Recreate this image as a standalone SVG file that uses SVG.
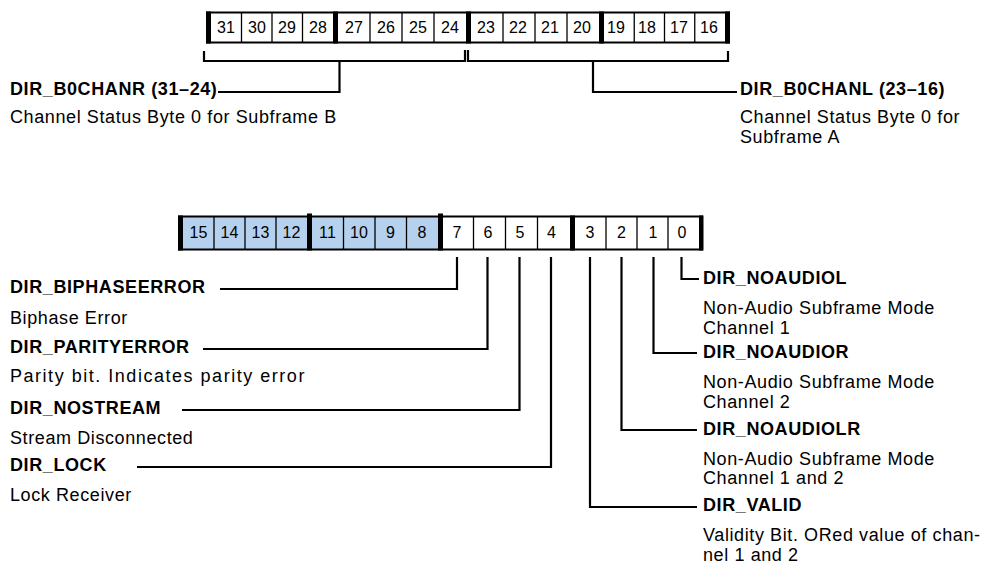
<svg xmlns="http://www.w3.org/2000/svg" width="987" height="566" viewBox="0 0 987 566">
<style>
  .bg { fill: #ffffff; }
  .frame { fill: none; stroke: #000; stroke-width: 2; }
  .div { stroke: #000; stroke-width: 1.3; }
  .bar { fill: #000; }
  .hi { fill: #b6d1ee; }
  .num { font-family: "Liberation Sans", Arial, sans-serif; font-size: 16px; letter-spacing: 0.2px; fill: #000; text-anchor: middle; }
  .b { font-family: "Liberation Sans", Arial, sans-serif; font-size: 18px; font-weight: bold; letter-spacing: 0.6px; fill: #000; }
  .r { font-family: "Liberation Sans", Arial, sans-serif; font-size: 18px; letter-spacing: 0.6px; fill: #000; }
  .ln { fill: none; stroke: #000; stroke-width: 2.2; stroke-linejoin: miter; stroke-linecap: butt; }
</style>
<rect class="bg" x="0" y="0" width="987" height="566"/>

<!-- Top register bits 31..16 -->
<g id="reg-top">
  <rect x="206" y="12" width="524" height="31" fill="#fff"/>
  <line class="div" x1="241.5" y1="12" x2="241.5" y2="43"/>
  <line class="div" x1="272" y1="12" x2="272" y2="43"/>
  <line class="div" x1="302.5" y1="12" x2="302.5" y2="43"/>
  <line class="div" x1="370" y1="12" x2="370" y2="43"/>
  <line class="div" x1="402" y1="12" x2="402" y2="43"/>
  <line class="div" x1="434" y1="12" x2="434" y2="43"/>
  <line class="div" x1="503" y1="12" x2="503" y2="43"/>
  <line class="div" x1="535" y1="12" x2="535" y2="43"/>
  <line class="div" x1="567" y1="12" x2="567" y2="43"/>
  <line class="div" x1="634.25" y1="12" x2="634.25" y2="43"/>
  <line class="div" x1="664.5" y1="12" x2="664.5" y2="43"/>
  <line class="div" x1="694.75" y1="12" x2="694.75" y2="43"/>
  <line class="frame" x1="206" y1="12.5" x2="730" y2="12.5"/>
  <line class="frame" x1="206" y1="42.5" x2="730" y2="42.5"/>
  <rect class="bar" x="206" y="11.5" width="5" height="32"/>
  <rect class="bar" x="333" y="11.5" width="5" height="32"/>
  <rect class="bar" x="466" y="11.5" width="5" height="32"/>
  <rect class="bar" x="599" y="11.5" width="5" height="32"/>
  <rect class="bar" x="725" y="11.5" width="5" height="32"/>
  <text class="num" x="226" y="33">31</text>
  <text class="num" x="257" y="33">30</text>
  <text class="num" x="287" y="33">29</text>
  <text class="num" x="318" y="33">28</text>
  <text class="num" x="354" y="33">27</text>
  <text class="num" x="386" y="33">26</text>
  <text class="num" x="418" y="33">25</text>
  <text class="num" x="450" y="33">24</text>
  <text class="num" x="486" y="33">23</text>
  <text class="num" x="518" y="33">22</text>
  <text class="num" x="550" y="33">21</text>
  <text class="num" x="582" y="33">20</text>
  <text class="num" x="616" y="33">19</text>
  <text class="num" x="647" y="33">18</text>
  <text class="num" x="679" y="33">17</text>
  <text class="num" x="709" y="33">16</text>
</g>

<!-- Bottom register bits 15..0 -->
<g id="reg-bottom">
  <rect x="178" y="216" width="525" height="34" fill="#fff"/>
  <rect class="hi" x="183" y="216" width="124" height="34"/>
  <rect class="hi" x="312" y="216" width="126" height="34"/>
  <line class="div" x1="214" y1="216" x2="214" y2="250"/>
  <line class="div" x1="245" y1="216" x2="245" y2="250"/>
  <line class="div" x1="276" y1="216" x2="276" y2="250"/>
  <line class="div" x1="343.5" y1="216" x2="343.5" y2="250"/>
  <line class="div" x1="375" y1="216" x2="375" y2="250"/>
  <line class="div" x1="406.5" y1="216" x2="406.5" y2="250"/>
  <line class="div" x1="473.5" y1="216" x2="473.5" y2="250"/>
  <line class="div" x1="505.5" y1="216" x2="505.5" y2="250"/>
  <line class="div" x1="537.5" y1="216" x2="537.5" y2="250"/>
  <line class="div" x1="606" y1="216" x2="606" y2="250"/>
  <line class="div" x1="637" y1="216" x2="637" y2="250"/>
  <line class="div" x1="668" y1="216" x2="668" y2="250"/>
  <line class="frame" x1="178" y1="216.5" x2="703" y2="216.5"/>
  <line class="frame" x1="178" y1="249.5" x2="703" y2="249.5"/>
  <rect class="bar" x="178" y="215.5" width="5" height="35"/>
  <rect class="bar" x="307" y="213.5" width="5" height="37"/>
  <rect class="bar" x="438" y="213.5" width="5" height="37"/>
  <rect class="bar" x="570" y="215.5" width="5" height="35"/>
  <rect class="bar" x="699" y="215.5" width="4.5" height="35"/>
  <text class="num" x="198.5" y="238">15</text>
  <text class="num" x="229.5" y="238">14</text>
  <text class="num" x="260.5" y="238">13</text>
  <text class="num" x="291.5" y="238">12</text>
  <text class="num" x="327.5" y="238">11</text>
  <text class="num" x="359" y="238">10</text>
  <text class="num" x="390.5" y="238">9</text>
  <text class="num" x="422" y="238">8</text>
  <text class="num" x="457" y="238">7</text>
  <text class="num" x="488" y="238">6</text>
  <text class="num" x="520" y="238">5</text>
  <text class="num" x="551.5" y="238">4</text>
  <text class="num" x="590" y="238">3</text>
  <text class="num" x="621.5" y="238">2</text>
  <text class="num" x="653" y="238">1</text>
  <text class="num" x="682" y="238">0</text>
</g>

<g id="connectors">
  <path class="ln" d="M204,51 V61 H465 V50"/>
  <path class="ln" d="M468,50 V61 H728 V51"/>
  <path class="ln" d="M339.5,61 V92 H218"/>
  <path class="ln" d="M593,61 V92 H737"/>
  <path class="ln" d="M457,257 V289 H220"/>
  <path class="ln" d="M487.5,257 V349 H203"/>
  <path class="ln" d="M519.5,257 V410 H182"/>
  <path class="ln" d="M551,257 V467 H137"/>
  <path class="ln" d="M681.5,257 V279 H699"/>
  <path class="ln" d="M653.5,257 V353 H697"/>
  <path class="ln" d="M621.5,257 V430 H697"/>
  <path class="ln" d="M590,257 V507 H697"/>
</g>

<g id="label-b0chanr">
  <text class="b" x="10" y="95">DIR_B0CHANR (31–24)</text>
  <text class="r" x="10" y="123">Channel Status Byte 0 for Subframe B</text>
</g>
<g id="label-b0chanl">
  <text class="b" x="740" y="95">DIR_B0CHANL (23–16)</text>
  <text class="r" x="740" y="123">Channel Status Byte 0 for</text>
  <text class="r" x="740" y="143">Subframe A</text>
</g>
<g id="label-biphaseerror">
  <text class="b" x="10" y="293">DIR_BIPHASEERROR</text>
  <text class="r" x="10" y="324">Biphase Error</text>
</g>
<g id="label-parityerror">
  <text class="b" x="10" y="353">DIR_PARITYERROR</text>
  <text class="r" x="10" y="382" textLength="295" lengthAdjust="spacing">Parity bit. Indicates parity error</text>
</g>
<g id="label-nostream">
  <text class="b" x="10" y="414">DIR_NOSTREAM</text>
  <text class="r" x="10" y="444">Stream Disconnected</text>
</g>
<g id="label-lock">
  <text class="b" x="10" y="471">DIR_LOCK</text>
  <text class="r" x="10" y="501">Lock Receiver</text>
</g>
<g id="label-noaudiol">
  <text class="b" x="703" y="284">DIR_NOAUDIOL</text>
  <text class="r" x="703" y="314">Non-Audio Subframe Mode</text>
  <text class="r" x="703" y="334">Channel 1</text>
</g>
<g id="label-noaudior">
  <text class="b" x="703" y="358">DIR_NOAUDIOR</text>
  <text class="r" x="703" y="388">Non-Audio Subframe Mode</text>
  <text class="r" x="703" y="408">Channel 2</text>
</g>
<g id="label-noaudiolr">
  <text class="b" x="703" y="435">DIR_NOAUDIOLR</text>
  <text class="r" x="703" y="465">Non-Audio Subframe Mode</text>
  <text class="r" x="703" y="484">Channel 1 and 2</text>
</g>
<g id="label-valid">
  <text class="b" x="703" y="511">DIR_VALID</text>
  <text class="r" x="703" y="541">Validity Bit. ORed value of chan-</text>
  <text class="r" x="703" y="561">nel 1 and 2</text>
</g>
</svg>
